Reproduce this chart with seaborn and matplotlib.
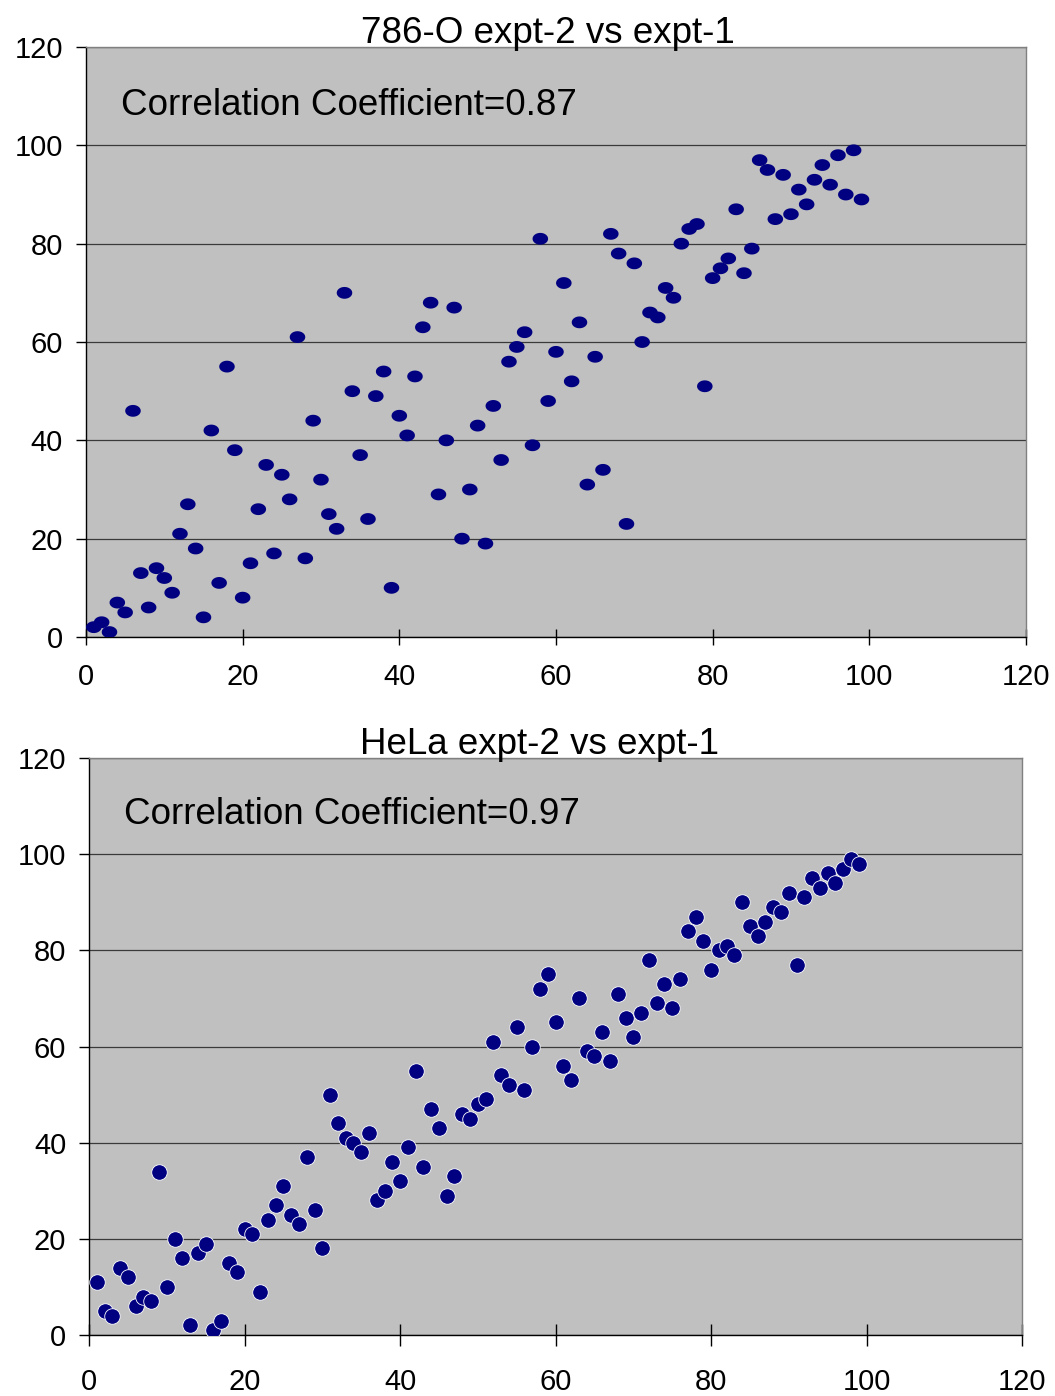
import numpy as np
import matplotlib
matplotlib.use("Agg")
import matplotlib.pyplot as plt
import seaborn as sns

# expt-1 rank (x) vs expt-2 rank (y)
x_786 = [1, 2, 3, 4, 5, 6, 7, 8, 9, 10, 11, 12, 13, 14, 15, 16, 17, 18, 19, 20,
         21, 22, 23, 24, 25, 26, 27, 28, 29, 30, 31, 32, 33, 34, 35, 36, 37, 38, 39, 40,
         41, 42, 43, 44, 45, 46, 47, 48, 49, 50, 51, 52, 53, 54, 55, 56, 57, 58, 59, 60,
         61, 62, 63, 64, 65, 66, 67, 68, 69, 70, 71, 72, 73, 74, 75, 76, 77, 78, 79, 80,
         81, 82, 83, 84, 85, 86, 87, 88, 89, 90, 91, 92, 93, 94, 95, 96, 97, 98, 99]
y_786 = [2, 3, 1, 7, 5, 46, 13, 6, 14, 12, 9, 21, 27, 18, 4, 42, 11, 55, 38, 8,
         15, 26, 35, 17, 33, 28, 61, 16, 44, 32, 25, 22, 70, 50, 37, 24, 49, 54, 10, 45,
         41, 53, 63, 68, 29, 40, 67, 20, 30, 43, 19, 47, 36, 56, 59, 62, 39, 81, 48, 58,
         72, 52, 64, 31, 57, 34, 82, 78, 23, 76, 60, 66, 65, 71, 69, 80, 83, 84, 51, 73,
         75, 77, 87, 74, 79, 97, 95, 85, 94, 86, 91, 88, 93, 96, 92, 98, 90, 99, 89]

x_hela = [1, 2, 3, 4, 5, 6, 7, 8, 9, 10, 11, 12, 13, 14, 15, 16, 17, 18, 19, 20,
          21, 22, 23, 24, 25, 26, 27, 28, 29, 30, 31, 32, 33, 34, 35, 36, 37, 38, 39, 40,
          41, 42, 43, 44, 45, 46, 47, 48, 49, 50, 51, 52, 53, 54, 55, 56, 57, 58, 59, 60,
          61, 62, 63, 64, 65, 66, 67, 68, 69, 70, 71, 72, 73, 74, 75, 76, 77, 78, 79, 80,
          81, 82, 83, 84, 85, 86, 87, 88, 89, 90, 91, 92, 93, 94, 95, 96, 97, 98, 99]
y_hela = [11, 5, 4, 14, 12, 6, 8, 7, 34, 10, 20, 16, 2, 17, 19, 1, 3, 15, 13, 22,
          21, 9, 24, 27, 31, 25, 23, 37, 26, 18, 50, 44, 41, 40, 38, 42, 28, 30, 36, 32,
          39, 55, 35, 47, 43, 29, 33, 46, 45, 48, 49, 61, 54, 52, 64, 51, 60, 72, 75, 65,
          56, 53, 70, 59, 58, 63, 57, 71, 66, 62, 67, 78, 69, 73, 68, 74, 84, 87, 82, 76,
          80, 81, 79, 90, 85, 83, 86, 89, 88, 92, 77, 91, 95, 93, 96, 94, 97, 99, 98]

titles = ["786-O expt-2 vs expt-1", "HeLa expt-2 vs expt-1"]
corr_labels = ["Correlation Coefficient=0.87", "Correlation Coefficient=0.97"]
ticks = [0, 20, 40, 60, 80, 100, 120]

sns.set_style("white")
plt.rcParams['font.family'] = ['Liberation Sans', 'DejaVu Sans']
plt.rcParams['text.color'] = 'black'
plt.rcParams['xtick.color'] = 'black'
plt.rcParams['ytick.color'] = 'black'
plt.rcParams['xtick.labelcolor'] = 'black'
plt.rcParams['ytick.labelcolor'] = 'black'

fig = plt.figure(figsize=(10.55, 13.96), dpi=100)
ax1 = fig.add_axes([0.0815, 0.5437, 0.891, 0.4226])
ax2 = fig.add_axes([0.0844, 0.0437, 0.8844, 0.4133])

# slightly flattened marker for the first panel
t = np.linspace(0, 2 * np.pi, 60)
ellipse = np.column_stack([np.cos(t), 0.76 * np.sin(t)])

sns.scatterplot(x=x_786, y=y_786, ax=ax1, marker=ellipse, s=125,
                color="#000080", edgecolor="none", zorder=3)
sns.scatterplot(x=x_hela, y=y_hela, ax=ax2, marker="o", s=125,
                color="#000080", edgecolor="white", linewidth=0.6, zorder=3)

for ax, title, lab, xpad, tlen, tx in [(ax1, titles[0], corr_labels[0], 13, 11.5, 0.491),
                                       (ax2, titles[1], corr_labels[1], 16, 16, 0.483)]:
    ax.set_facecolor("#C0C0C0")
    ax.set_xlim(0, 120)
    ax.set_ylim(0, 120)
    ax.set_xticks(ticks)
    ax.set_yticks(ticks)
    ax.grid(axis="y", color="#3a3a3a", linewidth=0.9)
    ax.grid(axis="x", visible=False)
    ax.set_axisbelow(True)
    for side in ["top", "right"]:
        ax.spines[side].set_color("#808080")
        ax.spines[side].set_linewidth(1.0)
    ax.spines["bottom"].set_color("black")
    ax.spines["left"].set_color("black")
    ax.spines["bottom"].set_linewidth(1.0)
    ax.spines["left"].set_linewidth(1.0)
    ax.tick_params(axis="x", direction="inout", length=tlen, width=1, color="black",
                   labelsize=21, pad=xpad, bottom=True)
    ax.tick_params(axis="y", direction="out", length=7.5, width=1, color="black",
                   labelsize=21, pad=9, left=True)
    ax.set_xlabel("")
    ax.set_ylabel("")
    ax.set_title(title, fontsize=26.5, pad=3, x=tx, color="black")
    ax.text(0.037, 0.885, lab, transform=ax.transAxes, fontsize=26.5,
            ha="left", va="baseline", color="black")

fig.savefig("out.png", dpi=100)
